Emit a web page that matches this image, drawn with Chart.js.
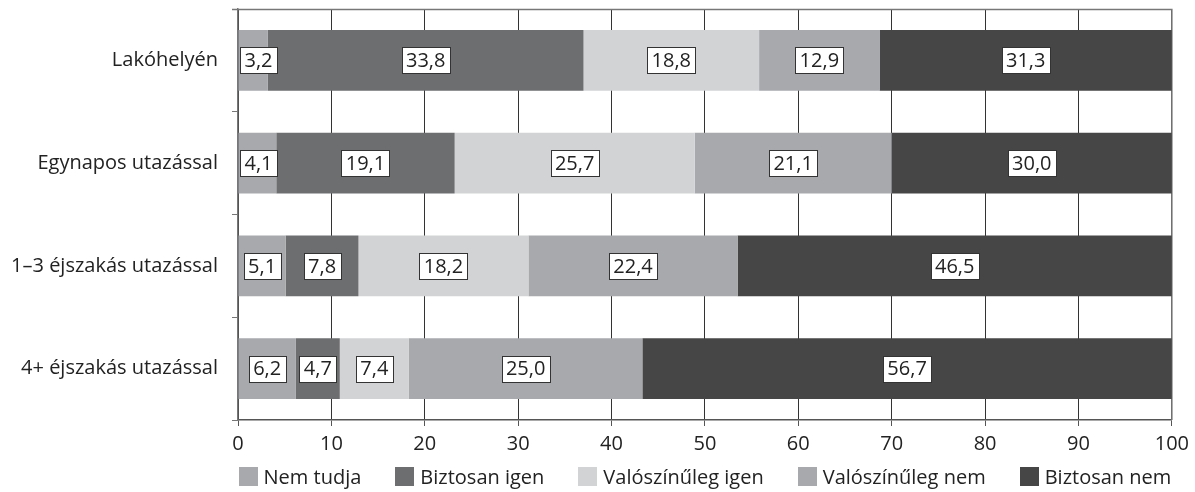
<!DOCTYPE html>
<html>
<head>
<meta charset="utf-8">
<script src="https://cdn.jsdelivr.net/npm/chart.js@4/dist/chart.umd.min.js"></script>
<style>
  html, body { margin: 0; padding: 0; background: #fff; }
  #wrap { width: 1195px; height: 492px; position: relative; }
</style>
</head>
<body>
<div id="wrap"><canvas id="chart"></canvas></div>
<script>
// Kategóriák és sorozatok (%)
const categories = ['Lakóhelyén', 'Egynapos utazással', '1–3 éjszakás utazással', '4+ éjszakás utazással'];
const seriesNames = ['Nem tudja', 'Biztosan igen', 'Valószínűleg igen', 'Valószínűleg nem', 'Biztosan nem'];
const nemTudja = [3.2, 4.1, 5.1, 6.2];
const biztosanIgen = [33.8, 19.1, 7.8, 4.7];
const valoszinulegIgen = [18.8, 25.7, 18.2, 7.4];
const valoszinulegNem = [12.9, 21.1, 22.4, 25.0];
const biztosanNem = [31.3, 30.0, 46.5, 56.7];
const xTicks = [0, 10, 20, 30, 40, 50, 60, 70, 80, 90, 100];

const colors = ['#a7a9ac', '#6d6e70', '#d1d3d4', '#a7a9ac', '#464646'];
const FONT = "'Open Sans', sans-serif";

// Fehér dobozos címkék a szegmensek közepén
const boxLabels = {
    id: 'boxLabels',
    afterDatasetsDraw(chart) {
        const ctx = chart.ctx;
        const area = chart.chartArea;
        ctx.save();
        ctx.font = '20px ' + FONT;
        ctx.textAlign = 'center';
        ctx.textBaseline = 'middle';
        chart.data.datasets.forEach((ds, di) => {
            const meta = chart.getDatasetMeta(di);
            meta.data.forEach((bar, i) => {
                const p = bar.getProps(['x', 'y', 'base'], true);
                const txt = ds.data[i].toFixed(1).replace('.', ',');
                const w = Math.round(ctx.measureText(txt).width + 9);
                const h = 26;
                let cx = (p.x + p.base) / 2;
                if (cx - w / 2 < area.left + 2) cx = area.left + 2 + w / 2;
                const x0 = Math.round(cx - w / 2) + 0.5;
                const y0 = Math.round(p.y - h / 2) + 0.5;
                ctx.fillStyle = '#fff';
                ctx.fillRect(x0, y0, w, h);
                ctx.strokeStyle = '#333';
                ctx.lineWidth = 1;
                ctx.strokeRect(x0, y0, w, h);
                ctx.fillStyle = '#222';
                ctx.fillText(txt, cx, p.y + 1);
            });
        });
        ctx.restore();
    }
};

// Felső és jobb keret
const frame = {
    id: 'frame',
    beforeDatasetsDraw(chart) {
        const {ctx, chartArea: a} = chart;
        ctx.save();
        ctx.strokeStyle = '#777';
        ctx.lineWidth = 1.5;
        ctx.beginPath();
        ctx.moveTo(a.left - 6, a.top + 0.5);
        ctx.lineTo(a.right, a.top + 0.5);
        ctx.lineTo(a.right, a.bottom);
        ctx.stroke();
        ctx.restore();
    }
};

// Jelmagyarázat a tengely alatt, a rajzterület közepére igazítva
const bottomLegend = {
    id: 'bottomLegend',
    afterDraw(chart) {
        const {ctx, chartArea: a} = chart;
        const box = 19, gapText = 6, gapItem = 34, yMid = 477;
        ctx.save();
        ctx.font = '20px ' + FONT;
        ctx.textBaseline = 'middle';
        ctx.textAlign = 'left';
        const items = chart.data.datasets.map(ds => ({
            text: ds.label, color: ds.backgroundColor, w: ctx.measureText(ds.label).width
        }));
        const total = items.reduce((s, it) => s + box + gapText + it.w, 0) + gapItem * (items.length - 1);
        let x = (a.left + a.right) / 2 - total / 2;
        items.forEach(it => {
            ctx.fillStyle = it.color;
            ctx.fillRect(Math.round(x), yMid - 10, box, box);
            ctx.fillStyle = '#222';
            ctx.fillText(it.text, x + box + gapText, yMid + 1);
            x += box + gapText + it.w + gapItem;
        });
        ctx.restore();
    }
};

const seriesData = [nemTudja, biztosanIgen, valoszinulegIgen, valoszinulegNem, biztosanNem];

new Chart(document.getElementById('chart'), {
    type: 'bar',
    data: {
        labels: categories,
        datasets: seriesNames.map((name, k) => ({
            label: name,
            data: seriesData[k],
            backgroundColor: colors[k],
            borderWidth: 0,
            barPercentage: 0.59,
            categoryPercentage: 1.0
        }))
    },
    options: {
        indexAxis: 'y',
        responsive: true,
        maintainAspectRatio: false,
        animation: false,
        layout: { padding: { top: 9, right: 21, left: 0, bottom: 30 } },
        plugins: {
            tooltip: { enabled: false },
            legend: { display: false }
        },
        scales: {
            x: {
                stacked: true,
                min: 0,
                max: 100,
                afterBuildTicks(axis) { axis.ticks = xTicks.map(v => ({ value: v })); },
                ticks: { font: { family: FONT, size: 20 }, color: '#222', padding: 6 },
                grid: { color: '#333', tickLength: 6, tickColor: '#555' },
                border: { color: '#555', width: 1.5 }
            },
            y: {
                stacked: true,
                afterFit(axis) {
                    axis.width = 238;
                    axis.paddingTop = 0;
                    axis.paddingBottom = 0;
                },
                ticks: { font: { family: FONT, size: 20 }, color: '#222', padding: 14 },
                grid: { drawOnChartArea: false, tickLength: 6, color: '#777' },
                border: { color: '#777', width: 1.5 }
            }
        }
    },
    plugins: [boxLabels, frame, bottomLegend]
});
</script>
</body>
</html>
